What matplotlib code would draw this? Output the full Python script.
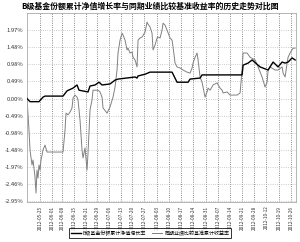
import matplotlib
matplotlib.use("Agg")
import matplotlib.pyplot as plt

plt.rcParams['font.family'] = ['Noto Sans CJK SC', 'DejaVu Sans']

# ---------------- data ----------------
# x = trading-day position along the axis, y = cumulative return in %
fund_x = [0, 3, 12, 16, 18, 36, 40, 46, 50, 52, 61, 63, 68, 72, 75, 83, 88, 91,
          108, 110, 111, 118, 123, 145, 150, 161, 163, 173, 175, 215, 216, 221,
          225, 233, 241, 246, 251, 255, 258, 261, 265, 268]
fund_y = [0.00, -0.09, -0.09, 0.04, 0.07, 0.07, 0.22, 0.30, 0.39, 0.24, 0.19, 0.36,
          0.39, 0.47, 0.39, 0.42, 0.53, 0.56, 0.62, 0.59, 0.65, 0.70, 0.76, 0.76,
          0.47, 0.47, 0.56, 0.59, 0.68, 0.68, 0.96, 1.02, 1.11, 0.91, 0.82, 1.05,
          0.91, 1.05, 1.02, 1.05, 1.17, 1.11]

bench_x = [0, 2, 3, 5, 6, 8, 9, 10, 11, 12, 13, 14, 15, 16, 18, 20, 33, 36, 38, 39,
           41, 43, 45, 46, 48, 50, 51, 53, 55, 56, 58, 60, 61, 63, 65, 66, 71, 73,
           75, 76, 80, 83, 86, 88, 90, 91, 93, 95, 96, 98, 100, 101, 103, 105, 106,
           108, 110, 111, 113, 115, 118, 120, 121, 123, 125, 126, 128, 130, 131,
           133, 135, 136, 138, 140, 143, 145, 146, 148, 150, 153, 156, 160, 163,
           165, 166, 168, 170, 171, 173, 175, 178, 180, 181, 183, 186, 190, 193,
           195, 196, 200, 203, 210, 213, 215, 216, 220, 223, 228, 231, 235, 238,
           240, 241, 243, 248, 251, 255, 256, 258, 260, 261, 263, 266, 268]
bench_y = [0.00, -0.91, -1.48, -1.91, -1.77, -2.26, -2.72, -2.06, -2.29, -1.91,
           -2.06, -1.77, -1.63, -1.48, -1.34, -1.54, -1.54, -1.54, -0.91, -0.42,
           -0.47, -0.39, -0.27, 0.01, 0.10, 0.04, -0.04, -0.62, -1.48, -1.71,
           -1.42, -2.06, -1.57, -0.33, -0.04, 0.24, 0.24, 0.19, 0.04, -0.27,
           -0.42, -0.24, 0.04, 0.33, 0.82, 1.31, 1.68, 1.88, 1.83, 1.68, 1.40,
           1.45, 1.31, 1.34, 1.19, 1.11, 0.91, 1.68, 1.74, 1.77, 1.91, 2.20, 2.14,
           2.06, 1.88, 1.40, 1.54, 1.74, 1.77, 1.74, 1.97, 2.17, 2.11, 1.97, 1.74,
           1.68, 1.48, 1.02, 0.91, 0.88, 0.82, 0.76, 0.73, 0.88, 1.02, 1.19, 1.31,
           1.11, 0.62, 0.47, 0.04, 0.19, 0.30, 0.24, 0.39, 0.45, 0.30, 0.24, 0.16,
           0.19, 0.10, 0.10, 0.16, 0.82, 1.31, 1.31, 1.19, 1.11, 0.91, 0.62, 0.33,
           0.47, 0.82, 0.91, 0.82, 0.82, 0.91, 0.73, 0.62, 1.02, 1.19, 1.31, 1.45,
           1.45]

tick_pos = [13, 25, 35, 47, 59, 70, 82, 94, 105, 117, 130, 142, 154, 166, 179,
            191, 203, 215, 227, 239, 252, 264]
tick_dates = ["2012-05-25", "2012-06-01", "2012-06-08", "2012-06-15", "2012-06-21",
              "2012-06-29", "2012-07-06", "2012-07-13", "2012-07-20", "2012-07-27",
              "2012-08-03", "2012-08-10", "2012-08-17", "2012-08-24", "2012-08-31",
              "2012-09-07", "2012-09-14", "2012-09-21", "2012-09-28", "2012-10-12",
              "2012-10-19", "2012-10-26"]

y_ticks = [-2.955, -2.4625, -1.97, -1.4775, -0.985, -0.4925, 0.0,
           0.4925, 0.985, 1.4775, 1.97]
y_labels = ["-2.95%", "-2.46%", "-1.97%", "-1.48%", "-0.98%", "-0.49%", "0.00%",
            "0.49%", "0.98%", "1.48%", "1.97%"]

title = "B级基金份额累计净值增长率与同期业绩比较基准收益率的历史走势对比图"
names = ["B级基金份额累计净值增长率", "同期业绩比较基准累计收益率"]

# ---------------- figure ----------------
fig = plt.figure(figsize=(3.0, 2.42), dpi=100)
ax = fig.add_axes([0.09, 0.165, 0.897, 0.781])

ax.plot(fund_x, fund_y, color="#000000", lw=1.0, label=names[0], zorder=3)
ax.plot(bench_x, bench_y, color="#808080", lw=0.7, label=names[1], zorder=2)

ax.set_xlim(0, 269)
ax.set_ylim(-2.98, 2.46)

ax.set_yticks(y_ticks)
ax.set_yticklabels(y_labels, fontsize=4.2, color="#333333")
ax.set_xticks(tick_pos)
ax.set_xticklabels(tick_dates, rotation=90, fontsize=3.4, color="#333333")
ax.tick_params(length=0, pad=2.5)

ax.grid(axis="y", linestyle=":", color="#bbbbbb", lw=0.6)
ax.grid(axis="x", linestyle=":", color="#666666", lw=0.6)
for s in ax.spines.values():
    s.set_color("#aaaaaa")
    s.set_linewidth(0.6)

fig.text(0.5, 0.975, title, ha="center", va="center", fontsize=5.7,
         fontweight="bold")

leg = fig.legend(loc="center", bbox_to_anchor=(0.5, 0.037), ncol=2,
                 fontsize=3.6, frameon=True, fancybox=False, handlelength=2.0,
                 handletextpad=0.4, columnspacing=1.2, borderpad=0.4)
leg.get_frame().set_edgecolor("#000000")
leg.get_frame().set_linewidth(0.7)

fig.savefig("out.png", dpi=100)
